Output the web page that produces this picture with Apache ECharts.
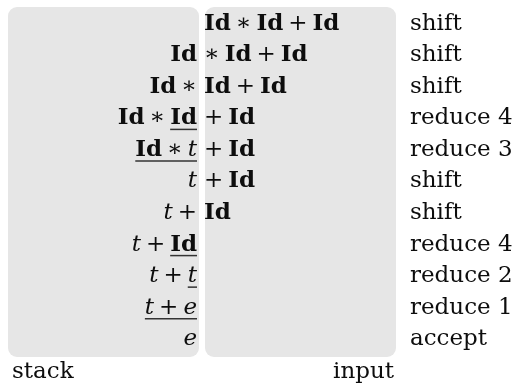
<!DOCTYPE html>
<html><head><meta charset="utf-8">
<script src="https://cdn.jsdelivr.net/npm/echarts@6/dist/echarts.min.js"></script>
<style>html,body{margin:0;padding:0;background:#fff}#c{width:515px;height:384px}</style>
</head><body><div id="c"></div>
<script>
// ---- data ----
const steps = ['1','2','3','4','5','6','7','8','9','10','11'];
// [ ... ] marks an underlined span (the handle being reduced)
const stackCol = ['', 'Id', 'Id ∗', 'Id ∗ [Id]', '[Id ∗ t]', 't', 't +', 't + [Id]', 't + [t]', '[t + e]', 'e'];
const inputCol = ['Id ∗ Id + Id', '∗ Id + Id', 'Id + Id', '+ Id', '+ Id', '+ Id', 'Id', '', '', '', ''];
const actionCol = ['shift','shift','shift','reduce 4','reduce 3','shift','shift','reduce 4','reduce 2','reduce 1','accept'];
const columnTitles = ['stack', 'input'];

// ---- styling ----
const FS = 23;
const FAM = '"DejaVu Serif", serif';
const FONT_B = 'bold ' + FS + 'px ' + FAM;
const FONT_I = 'italic ' + FS + 'px ' + FAM;
const FONT_R = FS + 'px ' + FAM;
const INK = '#0d0d0d';
const GAP = 5;
const STACK_RIGHT = 197, INPUT_LEFT = 204, ACTION_LEFT = 410;

const mctx = document.createElement('canvas').getContext('2d');
function measure(t, f){ mctx.font = f; return mctx.measureText(t).width; }

function tokenize(s){
  if(!s) return [];
  const out = []; let ul = false;
  s.split(' ').forEach(function(tok){
    let t = tok, open = false, close = false;
    if(t[0] === '['){ open = true; t = t.slice(1); }
    if(t[t.length-1] === ']'){ close = true; t = t.slice(0,-1); }
    if(open) ul = true;
    let font = FONT_R;
    if(t === 'Id') font = FONT_B; else if(/^[a-z]$/.test(t)) font = FONT_I;
    out.push({t: t, font: font, ul: ul, w: measure(t, font)});
    if(close) ul = false;
  });
  return out;
}

function layout(tokens, startX){
  let x = startX; const res = [];
  tokens.forEach(function(k, i){
    res.push({t:k.t, font:k.font, ul:k.ul, x:x, w:k.w});
    x += k.w + (i < tokens.length-1 ? GAP : 0);
  });
  return {items: res, end: x};
}
function totalWidth(tokens){
  let w = 0; tokens.forEach(function(k,i){ w += k.w + (i>0?GAP:0); }); return w;
}

const chart = echarts.init(document.getElementById('c'), null, {renderer:'canvas'});

function renderItem(params, api){
  const i = api.value(1);
  const p = api.coord([0, i]);
  const x0 = params.coordSys.x, y = p[1];
  const children = [];
  function emit(lay){
    lay.items.forEach(function(it){
      children.push({type:'text', x: x0 + it.x, y: y, style:{text: it.t, font: it.font, fill: INK, align:'left', verticalAlign:'middle'}});
    });
    let s = null;
    lay.items.forEach(function(it, k){
      if(it.ul && s === null) s = it.x;
      const next = lay.items[k+1];
      if(it.ul && (!next || !next.ul)){
        children.push({type:'line', shape:{x1: x0 + s, y1: y + 11, x2: x0 + it.x + it.w, y2: y + 11}, style:{stroke:'#333', lineWidth:1.5}});
        s = null;
      }
    });
  }
  const st = tokenize(stackCol[i]);
  emit(layout(st, STACK_RIGHT - totalWidth(st)));
  emit(layout(tokenize(inputCol[i]), INPUT_LEFT));
  children.push({type:'text', x: x0 + ACTION_LEFT, y: y, style:{text: actionCol[i], font: FONT_R, fill: INK, align:'left', verticalAlign:'middle'}});
  return {type:'group', children: children};
}

chart.setOption({
  animation: false,
  grid: {left: 0, right: 0, top: 8, bottom: 29},
  xAxis: {type:'value', min:0, max:1, show:false},
  yAxis: {type:'category', data: steps, inverse: true, show:false},
  graphic: [
    {type:'rect', left: 8, top: 7, shape:{width:191, height:350, r:9}, style:{fill:'#e6e6e6'}, z:-10},
    {type:'rect', left: 205, top: 7, shape:{width:191, height:350, r:9}, style:{fill:'#e6e6e6'}, z:-10},
    {type:'text', left: 12, top: 361, style:{text: columnTitles[0], font: FONT_R, fill: INK}},
    {type:'text', right: 515-394, top: 361, style:{text: columnTitles[1], font: FONT_R, fill: INK}}
  ],
  series: [{
    type:'custom',
    renderItem: renderItem,
    data: steps.map(function(s, i){ return [0, i]; }),
    silent: true
  }]
});
</script>
</body></html>
